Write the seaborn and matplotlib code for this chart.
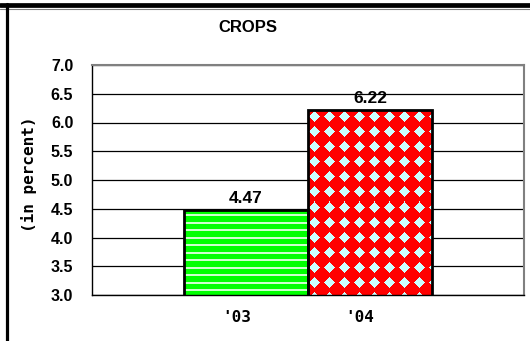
import numpy as np
import pandas as pd
import matplotlib
matplotlib.use("Agg")
import matplotlib.pyplot as plt
import seaborn as sns
from matplotlib.lines import Line2D

# Chart data
years = ["'03", "'04"]
values = [4.47, 6.22]
y_ticks = [3.0, 3.5, 4.0, 4.5, 5.0, 5.5, 6.0, 6.5, 7.0]
title = "CROPS"
y_label = "(in percent)"

sns.set_theme(style="white")
plt.rcParams["font.family"] = ["Liberation Sans", "DejaVu Sans"]

W, H, DPI = 530, 341, 100
fig = plt.figure(figsize=(W / DPI, H / DPI), dpi=DPI)
fig.patch.set_facecolor("white")
ax = fig.add_axes([92 / W, 1 - 295 / H, 432 / W, 230 / H])

df = pd.DataFrame({"year": years, "value": values})
sns.barplot(data=df, x="year", y="value", hue="year",
            palette=["#00FF00", "#FF0000"], width=1.0, saturation=1,
            edgecolor="black", linewidth=2, legend=False, ax=ax)

ax.set_xlim(-1.245, 2.245)
ax.set_ylim(y_ticks[0], y_ticks[-1])

# Gridlines behind the bars
ax.set_axisbelow(True)
ax.yaxis.grid(True, color="black", linewidth=0.9)
ax.xaxis.grid(False)

for side in ("top", "right"):
    ax.spines[side].set_color("#808080")
    ax.spines[side].set_linewidth(1.5)
for side in ("left", "bottom"):
    ax.spines[side].set_color("black")
    ax.spines[side].set_linewidth(1.0)

ax.set_yticks(y_ticks, [f"{t:.1f}" for t in y_ticks])
ax.tick_params(axis="y", direction="out", length=4, width=1, color="black",
               pad=9.5, labelsize=11.5, labelcolor="black")
for lbl in ax.get_yticklabels():
    lbl.set_fontweight("bold")

ax.set_xticks([i - 0.08 for i in range(len(years))], years)
ax.tick_params(axis="x", length=0, pad=11, labelsize=11.5, labelcolor="black")
for lbl in ax.get_xticklabels():
    lbl.set_fontweight("bold")
    lbl.set_family("DejaVu Sans Mono")

ax.set_xlabel("")
ax.set_ylabel("")

# Value labels above each bar
for cont in ax.containers:
    ax.bar_label(cont, fmt="%.2f", padding=3, fontsize=12.5,
                 fontweight="bold", color="black")

# Fill textures: stripes on the first bar, diamonds on the second
fig.canvas.draw()


def stripes(h, w):
    img = np.zeros((h, w, 3))
    img[:] = np.array([0, 255, 0]) / 255
    rows = np.arange(h)
    light = ((rows - 4) % 7.5) < 1.6
    img[light] = np.array([204, 255, 204]) / 255
    return img


def diamonds(h, w):
    img = np.zeros((h, w, 3))
    img[:] = np.array([255, 0, 0]) / 255
    P = 15.0
    jj, ii = np.meshgrid(np.arange(w), np.arange(h))
    du = np.abs(((jj - 6 + P / 2) % P) - P / 2)
    dv = np.abs(((ii - 7 + P / 2) % P) - P / 2)
    img[(du + dv) <= 5.4] = np.array([204, 255, 255]) / 255
    return img


makers = [stripes, diamonds]
for k, patch in enumerate(ax.patches[:len(values)]):
    x0 = patch.get_x()
    x1 = x0 + patch.get_width()
    top = patch.get_y() + patch.get_height()
    bot = y_ticks[0]
    p0 = ax.transData.transform((x0, top))
    p1 = ax.transData.transform((x1, bot))
    w = max(1, int(round(abs(p1[0] - p0[0]))))
    h = max(1, int(round(abs(p1[1] - p0[1]))))
    img = makers[k](h, w)
    z = patch.get_zorder()
    im = ax.imshow(img, extent=(x0, x1, bot, top), origin="upper",
                   aspect="auto", interpolation="nearest", zorder=z + 0.1)
    im.set_clip_path(patch)
    patch.set_facecolor("none")
    patch.set_zorder(z + 0.2)

ax.set_xlim(-1.245, 2.245)
ax.set_ylim(y_ticks[0], y_ticks[-1])

# Title and axis label
fig.text(248 / W, 1 - 27.5 / H, title, ha="center", va="center",
         fontsize=12, fontweight="bold", color="black")
fig.text(29 / W, 1 - 174 / H, y_label, ha="center", va="center",
         rotation=90, fontsize=11.5, fontweight="bold", color="black",
         family="DejaVu Sans Mono")

# Outer frame strokes along the top and left
fig.add_artist(Line2D([0, 1], [1 - 4.5 / H] * 2, transform=fig.transFigure,
                      color="black", linewidth=3.4))
fig.add_artist(Line2D([0, 1], [1 - 8.5 / H] * 2, transform=fig.transFigure,
                      color="#808080", linewidth=0.8))
fig.add_artist(Line2D([6.5 / W] * 2, [0, 1 - 4 / H], transform=fig.transFigure,
                      color="black", linewidth=2.3))

fig.savefig("out.png", dpi=DPI)
